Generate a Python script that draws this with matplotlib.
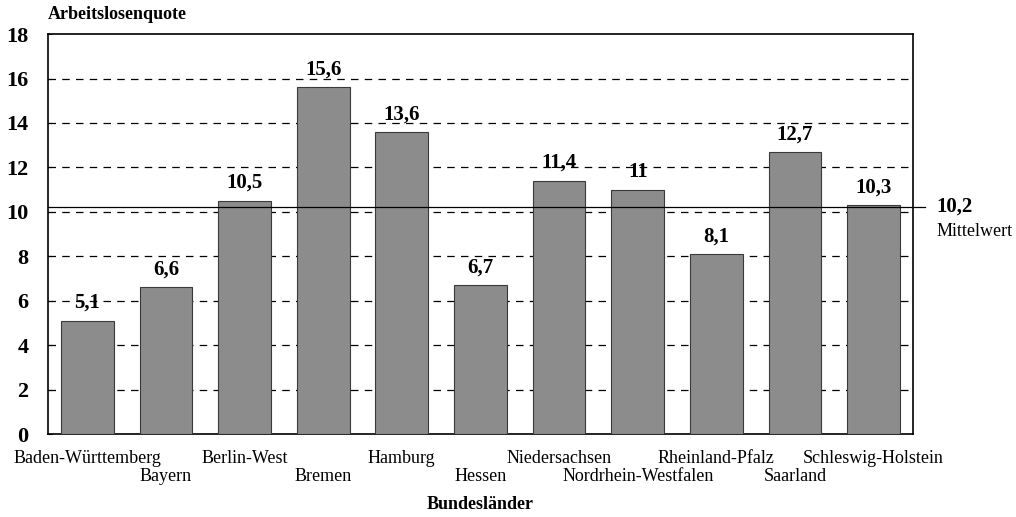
import numpy as np
import matplotlib.pyplot as plt

laender = ["Baden-Württemberg", "Bayern", "Berlin-West", "Bremen", "Hamburg",
           "Hessen", "Niedersachsen", "Nordrhein-Westfalen", "Rheinland-Pfalz",
           "Saarland", "Schleswig-Holstein"]
quote = [5.1, 6.6, 10.5, 15.6, 13.6, 6.7, 11.4, 11.0, 8.1, 12.7, 10.3]
quote_text = ["5,1", "6,6", "10,5", "15,6", "13,6", "6,7", "11,4", "11", "8,1", "12,7", "10,3"]
mittelwert = 10.2
y_ticks = [0, 2, 4, 6, 8, 10, 12, 14, 16, 18]

plt.rcParams['font.family'] = ['Liberation Serif', 'DejaVu Serif']

fig = plt.figure(figsize=(10.16, 5.17), dpi=100)
ax = fig.add_axes([0.0472, 0.1605, 0.8514, 0.7735])

x = np.arange(len(laender))
ax.bar(x, quote, width=0.67, color='#8c8c8c', edgecolor='#3a3a3a', linewidth=0.8, zorder=3)

for xi, v, t in zip(x, quote, quote_text):
    ax.text(xi, v + 0.35, t, ha='center', va='bottom', fontsize=15, fontweight='bold', zorder=5)

ax.set_xlim(-0.5, len(laender) - 0.5)
ax.set_ylim(0, 18)
ax.set_yticks(y_ticks)
ax.set_yticklabels([str(t) for t in y_ticks], fontsize=16, fontweight='bold')
for t in y_ticks[1:-1]:
    ax.axhline(t, color='black', linestyle=(0, (6, 5)), linewidth=0.9, zorder=1)

# mean line runs a bit past the right edge of the plot
ax.plot([-0.5, len(laender) - 0.35], [mittelwert, mittelwert], color='black',
        linewidth=0.9, zorder=4, clip_on=False)
ax.text(len(laender) - 0.2, mittelwert + 0.05, "10,2", ha='left', va='center',
        fontsize=15, fontweight='bold')
ax.text(len(laender) - 0.2, mittelwert - 1.1, "Mittelwert", ha='left', va='center',
        fontsize=13)

ax.set_xticks(x)
ax.set_xticklabels([])
ax.tick_params(axis='x', length=0)
ax.tick_params(axis='y', length=3, direction='in', pad=14)
for i, name in enumerate(laender):
    y_off = -0.04 if i % 2 == 0 else -0.085
    ax.text(i, y_off, name, transform=ax.get_xaxis_transform(), ha='center', va='top',
            fontsize=13)

for s in ax.spines.values():
    s.set_linewidth(1.2)
    s.set_color('black')

fig.text(0.0472, 0.955, "Arbeitslosenquote", ha='left', va='bottom', fontsize=13, fontweight='bold')
fig.text(0.473, 0.008, "Bundesländer", ha='center', va='bottom', fontsize=13, fontweight='bold')

fig.savefig('out.png', dpi=100)
